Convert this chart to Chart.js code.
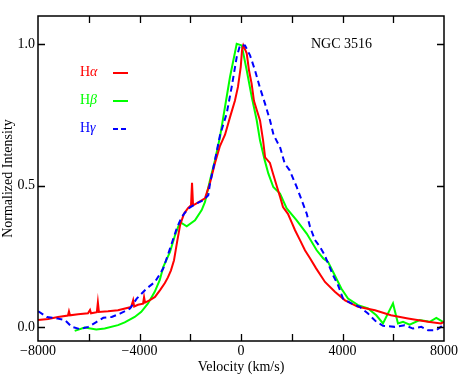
<!DOCTYPE html>
<html>
<head>
<meta charset="utf-8">
<script src="https://cdn.jsdelivr.net/npm/chart.js@4"></script>
<style>
  html, body { margin: 0; padding: 0; background: #fff; }
  #wrap { width: 458px; height: 376px; }
</style>
</head>
<body>
<div id="wrap"><canvas id="c" width="458" height="376"></canvas></div>
<script>
// Velocity (km/s) / normalized intensity
const haVel = [-8000, -7600, -7210, -6820, -6780, -6740, -6420, -6030, -5950, -5910, -5680, -5640, -5600,
  -5240, -4850, -4530, -4330, -4250, -4210, -4060, -3860, -3820, -3780, -3590, -3390, -3190, -3000,
  -2880, -2760, -2640, -2520, -2400, -2250, -2090, -1970, -1930, -1890, -1700, -1420, -1220, -1025,
  -830, -630, -430, -240, -120, -10, 40, 90, 225, 315, 420, 510, 630, 750, 870, 950, 1140, 1260,
  1420, 1540, 1655, 1850, 2010, 2130, 2325, 2520, 2720, 2960, 3310, 3700, 4100, 4610, 5280, 5910,
  6580, 7370, 7880, 8000];
const haInt = [0.024, 0.028, 0.035, 0.040, 0.055, 0.041, 0.045, 0.048, 0.060, 0.048, 0.052, 0.087, 0.053,
  0.055, 0.059, 0.066, 0.070, 0.094, 0.072, 0.078, 0.082, 0.105, 0.086, 0.095, 0.106, 0.130, 0.155,
  0.175, 0.200, 0.236, 0.300, 0.360, 0.400, 0.420, 0.430, 0.510, 0.430, 0.440, 0.455, 0.510, 0.580,
  0.640, 0.680, 0.743, 0.800, 0.849, 0.920, 0.979, 0.996, 0.968, 0.908, 0.860, 0.800, 0.765, 0.730,
  0.660, 0.600, 0.580, 0.543, 0.495, 0.460, 0.424, 0.400, 0.367, 0.342, 0.307, 0.271, 0.243, 0.207,
  0.159, 0.124, 0.094, 0.071, 0.059, 0.041, 0.030, 0.018, 0.012, 0.018];

const hbVel = [-6554, -6160, -5703, -5372, -4847, -4583, -4189, -3929, -3665, -3401, -3204, -3062, -2798,
  -2601, -2404, -2140, -1813, -1549, -1419, -1222, -1025, -828, -434, -169, 28, 225, 422, 619, 749,
  934, 1076, 1273, 1537, 1801, 2195, 2589, 2983, 3243, 3429, 3626, 3953, 4217, 4611, 5005, 5332,
  5596, 5990, 6187, 6384, 6648, 7042, 7437, 7697, 7961];
const hbInt = [-0.014, -0.002, -0.009, -0.006, 0.006, 0.016, 0.035, 0.053, 0.083, 0.124, 0.165, 0.212, 0.265,
  0.324, 0.371, 0.356, 0.377, 0.413, 0.442, 0.519, 0.590, 0.672, 0.884, 1.002, 0.996, 0.908, 0.814,
  0.731, 0.660, 0.590, 0.543, 0.495, 0.472, 0.419, 0.377, 0.330, 0.271, 0.242, 0.230, 0.195, 0.136,
  0.100, 0.077, 0.065, 0.041, 0.012, 0.083, 0.012, 0.018, 0.008, 0.024, 0.018, 0.032, 0.018];

const hgVel = [-7990, -7657, -7263, -6936, -6672, -6345, -6018, -5687, -5427, -5096, -4769, -4374, -4110,
  -3716, -3389, -3062, -2798, -2534, -2337, -2077, -1746, -1486, -1289, -1222, -1025, -828, -564,
  -367, -169, -39, 158, 355, 552, 737, 946, 1143, 1280, 1458, 1537, 1722, 1919, 2195, 2392, 2589,
  2719, 2916, 3113, 3299, 3626, 3823, 4020, 4347, 4678, 5005, 5332, 5596, 6057, 6451, 6778, 7106,
  7370, 7697, 7961];
const hgInt = [0.055, 0.035, 0.030, 0.024, 0.000, -0.008, 0.000, 0.018, 0.032, 0.035, 0.047, 0.065, 0.100,
  0.136, 0.159, 0.207, 0.277, 0.348, 0.389, 0.419, 0.437, 0.448, 0.466, 0.507, 0.590, 0.678, 0.755,
  0.849, 0.955, 0.996, 0.996, 0.961, 0.908, 0.849, 0.790, 0.731, 0.680, 0.649, 0.637, 0.578, 0.554,
  0.495, 0.448, 0.401, 0.354, 0.307, 0.283, 0.254, 0.183, 0.148, 0.100, 0.083, 0.071, 0.047, 0.018,
  0.004, 0.000, 0.006, -0.006, 0.000, -0.012, -0.012, 0.006];

const xTicks = [-8000, -4000, 0, 4000, 8000];
const xMinor = [-6000, -4000, -2000, 0, 2000, 4000, 6000];
const yTicks = [0.0, 0.5, 1.0];

const SERIF = '"Liberation Serif", "DejaVu Serif", serif';

const pts = (xs, ys) => xs.map((v, i) => ({ x: v, y: ys[i] }));

// frame with inward ticks on all four sides
const framePlugin = {
  id: 'frame',
  afterDatasetsDraw(chart) {
    const { ctx, chartArea: a, scales: { x, y } } = chart;
    const len = 7;
    ctx.save();
    ctx.strokeStyle = '#000';
    ctx.lineWidth = 1.5;
    ctx.strokeRect(a.left, a.top, a.right - a.left, a.bottom - a.top);
    ctx.lineWidth = 1.3;
    ctx.beginPath();
    xMinor.forEach(v => {
      const px = Math.round(x.getPixelForValue(v)) + 0.5;
      ctx.moveTo(px, a.bottom); ctx.lineTo(px, a.bottom - len);
      ctx.moveTo(px, a.top); ctx.lineTo(px, a.top + len);
    });
    yTicks.forEach(v => {
      const py = Math.round(y.getPixelForValue(v)) + 0.5;
      ctx.moveTo(a.left, py); ctx.lineTo(a.left + len, py);
      ctx.moveTo(a.right, py); ctx.lineTo(a.right - len, py);
    });
    ctx.stroke();
    ctx.restore();
  }
};

// in-plot labels: legend entries and object name
const labelPlugin = {
  id: 'labels',
  afterDraw(chart) {
    const { ctx } = chart;
    ctx.save();
    ctx.textBaseline = 'middle';
    ctx.textAlign = 'left';
    const entries = [
      { g: 'α', color: '#ff0000', y: 72, dash: [] },
      { g: 'β', color: '#00ff00', y: 100, dash: [] },
      { g: 'γ', color: '#0000ff', y: 128, dash: [5, 3] }
    ];
    entries.forEach(e => {
      ctx.fillStyle = e.color;
      ctx.font = '14px ' + SERIF;
      ctx.fillText('H', 80, e.y);
      const w = ctx.measureText('H').width;
      ctx.font = 'italic 14px ' + SERIF;
      ctx.fillText(e.g, 80 + w, e.y);
      ctx.strokeStyle = e.color;
      ctx.lineWidth = 2;
      ctx.setLineDash(e.dash);
      ctx.beginPath();
      ctx.moveTo(113, e.y + 1);
      ctx.lineTo(128, e.y + 1);
      ctx.stroke();
      ctx.setLineDash([]);
    });
    ctx.fillStyle = '#000';
    ctx.font = '14px ' + SERIF;
    ctx.fillText('NGC 3516', 311, 44);
    ctx.restore();
  }
};

new Chart(document.getElementById('c'), {
  type: 'line',
  data: {
    datasets: [
      { label: 'Hγ', data: pts(hgVel, hgInt), borderColor: '#0000ff', borderWidth: 2, borderDash: [6, 4], order: 1 },
      { label: 'Hα', data: pts(haVel, haInt), borderColor: '#ff0000', borderWidth: 2, order: 2 },
      { label: 'Hβ', data: pts(hbVel, hbInt), borderColor: '#00ff00', borderWidth: 2, order: 3 }
    ]
  },
  options: {
    responsive: false,
    animation: false,
    parsing: false,
    elements: { point: { radius: 0 }, line: { tension: 0, fill: false } },
    layout: { padding: { left: 0, top: 16, right: 14, bottom: 0 } },
    plugins: { legend: { display: false }, tooltip: { enabled: false } },
    scales: {
      x: {
        type: 'linear',
        min: -8000, max: 8000,
        grid: { display: false, drawTicks: false },
        border: { display: false },
        afterBuildTicks: s => { s.ticks = xTicks.map(v => ({ value: v })); },
        afterFit: s => { s.height = 35; s.paddingLeft = 0; s.paddingRight = 0; },
        ticks: {
          color: '#000', padding: 2, maxRotation: 0,
          font: { family: SERIF, size: 14 },
          callback: v => (v < 0 ? '\u2212' + Math.abs(v) : String(v))
        },
        title: { display: true, text: 'Velocity (km/s)', color: '#000', padding: { top: 0, bottom: 0 },
          font: { family: SERIF, size: 14 } }
      },
      y: {
        type: 'linear',
        min: -0.05, max: 1.1,
        grid: { display: false, drawTicks: false },
        border: { display: false },
        afterBuildTicks: s => { s.ticks = yTicks.map(v => ({ value: v })); },
        afterFit: s => { s.width = 38; s.paddingTop = 0; s.paddingBottom = 0; },
        ticks: {
          color: '#000', padding: 3,
          font: { family: SERIF, size: 14 },
          callback: v => v.toFixed(1)
        },
        title: { display: true, text: 'Normalized Intensity', color: '#000', padding: { top: 0, bottom: 0 },
          font: { family: SERIF, size: 14 } }
      }
    }
  },
  plugins: [framePlugin, labelPlugin]
});
</script>
</body>
</html>
